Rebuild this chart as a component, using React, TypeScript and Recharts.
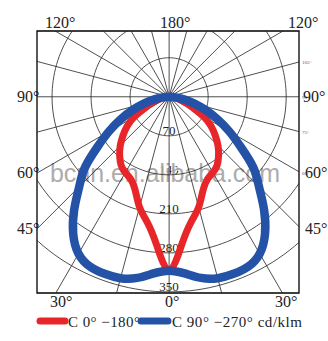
import { LineChart, Line, XAxis, YAxis, ReferenceArea } from "recharts";

// gamma angles (deg from nadir) and intensities in cd/klm
const GAMMA = [0, 5, 10, 15, 20, 25, 30, 35, 40, 45, 50, 55, 60, 65, 70, 75, 80, 85, 90];
const C0_180 = [310, 265, 228, 205, 178, 163, 157, 150, 138, 124, 108, 92, 72, 48, 32, 20, 12, 5, 0];
const C90_270 = [312, 318, 330, 337, 338, 336, 325, 300, 265, 228, 197, 157, 125, 96, 70, 47, 27, 10, 0];

const RINGS = [70, 140, 210, 280, 350];
const SPOKES = [0, 15, 30, 45, 60, 75, 90, 105, 120, 135, 150, 165];

const X_DOMAIN = [-237, 233];
const Y_DOMAIN = [-352, 118];

const RED = "#e8262a";
const BLUE = "#2352a6";
const FONT = "'Liberation Serif', 'DejaVu Serif', serif";

// plot box in pixels (must match chart margins)
const BOX = { left: 37, top: 31, width: 262, height: 262 };
const px = (x: number) => BOX.left + ((x - X_DOMAIN[0]) / (X_DOMAIN[1] - X_DOMAIN[0])) * BOX.width;
const py = (y: number) => BOX.top + ((Y_DOMAIN[1] - y) / (Y_DOMAIN[1] - Y_DOMAIN[0])) * BOX.height;

const rad = (d: number) => (d * Math.PI) / 180;

// symmetric curve: left half from 90 down to 0, then right half 0 -> 90
function curve(values: number[]) {
  const left = GAMMA.map((g, i) => ({ x: -values[i] * Math.sin(rad(g)), y: -values[i] * Math.cos(rad(g)) })).reverse();
  const right = GAMMA.slice(1).map((g, i) => ({
    x: values[i + 1] * Math.sin(rad(g)),
    y: -values[i + 1] * Math.cos(rad(g)),
  }));
  return [...left, ...right];
}

function ring(r: number) {
  const pts = [];
  for (let a = 0; a <= 360; a += 2) pts.push({ x: r * Math.sin(rad(a)), y: r * Math.cos(rad(a)) });
  return pts;
}

function spoke(a: number) {
  const L = 600;
  return [
    { x: -L * Math.sin(rad(a)), y: -L * Math.cos(rad(a)) },
    { x: L * Math.sin(rad(a)), y: L * Math.cos(rad(a)) },
  ];
}

const BIG_LABELS = [
  { t: "120°", x: 45, y: 28 },
  { t: "180°", x: 160, y: 28 },
  { t: "120°", x: 288, y: 28 },
  { t: "90°", x: 17, y: 102 },
  { t: "90°", x: 303, y: 102 },
  { t: "60°", x: 17, y: 178 },
  { t: "60°", x: 305, y: 178 },
  { t: "45°", x: 17, y: 234 },
  { t: "45°", x: 305, y: 234 },
  { t: "30°", x: 50, y: 307 },
  { t: "0°", x: 165, y: 307 },
  { t: "30°", x: 275, y: 307 },
];

const SMALL_LABELS = [
  { t: "105°", y: 64 },
  { t: "90°", y: 99 },
  { t: "75°", y: 134 },
  { t: "60°", y: 175 },
];

export default function App() {
  const redData = curve(C0_180);
  const blueData = curve(C90_270);
  return (
    <div style={{ position: "absolute", left: 0, top: 0, width: 328, height: 341, background: "#fff" }}>
      <LineChart width={328} height={341} margin={{ top: 31, left: 37, right: 29, bottom: 48 }}>
        <XAxis type="number" dataKey="x" domain={X_DOMAIN} allowDataOverflow hide />
        <YAxis type="number" dataKey="y" domain={Y_DOMAIN} allowDataOverflow hide />
        {RINGS.map((r) => (
          <Line
            key={"r" + r}
            data={ring(r)}
            dataKey="y"
            stroke="#222"
            strokeWidth={0.8}
            dot={false}
            isAnimationActive={false}
          />
        ))}
        {SPOKES.map((a) => (
          <Line
            key={"s" + a}
            data={spoke(a)}
            dataKey="y"
            stroke="#222"
            strokeWidth={0.8}
            dot={false}
            isAnimationActive={false}
          />
        ))}
        <Line
          data={redData}
          dataKey="y"
          type="natural"
          stroke={RED}
          strokeWidth={7}
          strokeLinecap="round"
          strokeLinejoin="round"
          dot={false}
          isAnimationActive={false}
        />
        <Line
          data={blueData}
          dataKey="y"
          type="natural"
          stroke={BLUE}
          strokeWidth={8.5}
          strokeLinecap="round"
          strokeLinejoin="round"
          dot={false}
          isAnimationActive={false}
        />
        <ReferenceArea
          x1={X_DOMAIN[0]}
          x2={X_DOMAIN[1]}
          y1={Y_DOMAIN[0]}
          y2={Y_DOMAIN[1]}
          fill="none"
          fillOpacity={0}
          stroke="#000"
          strokeWidth={1.3}
        />
        {RINGS.map((r) => (
          <text key={"t" + r} x={px(0)} y={py(-r) - 1} textAnchor="middle" fontFamily={FONT} fontSize={13} fill="#222">
            {r}
          </text>
        ))}
        <text
          x={165}
          y={182}
          textAnchor="middle"
          fontFamily="'Liberation Sans', Arial, sans-serif"
          fontSize={25}
          textLength={230}
          fill="#a4a4a4"
          stroke="#fff"
          strokeWidth={1.5}
          paintOrder="stroke"
          opacity={0.9}
        >
          bcnn.en.alibaba.com
        </text>
        {SMALL_LABELS.map((l) => (
          <text key={"sl" + l.y} x={302} y={l.y} fontFamily={FONT} fontSize={5} fill="#555">
            {l.t}
          </text>
        ))}
        {BIG_LABELS.map((l, i) => (
          <text key={"bl" + i} x={l.x} y={l.y} fontFamily={FONT} fontSize={16} fill="#222">
            {l.t}
          </text>
        ))}
        <line x1={40} y1={321} x2={65} y2={321} stroke={RED} strokeWidth={7} strokeLinecap="round" />
        <text x={68} y={327} fontFamily={FONT} fontSize={15} textLength={72} fill="#222">
          C 0° −180°
        </text>
        <line x1={141} y1={321} x2={168} y2={321} stroke={BLUE} strokeWidth={7} strokeLinecap="round" />
        <text x={172} y={327} fontFamily={FONT} fontSize={15} textLength={130} fill="#222">
          C 90° −270° cd/klm
        </text>
      </LineChart>
    </div>
  );
}
